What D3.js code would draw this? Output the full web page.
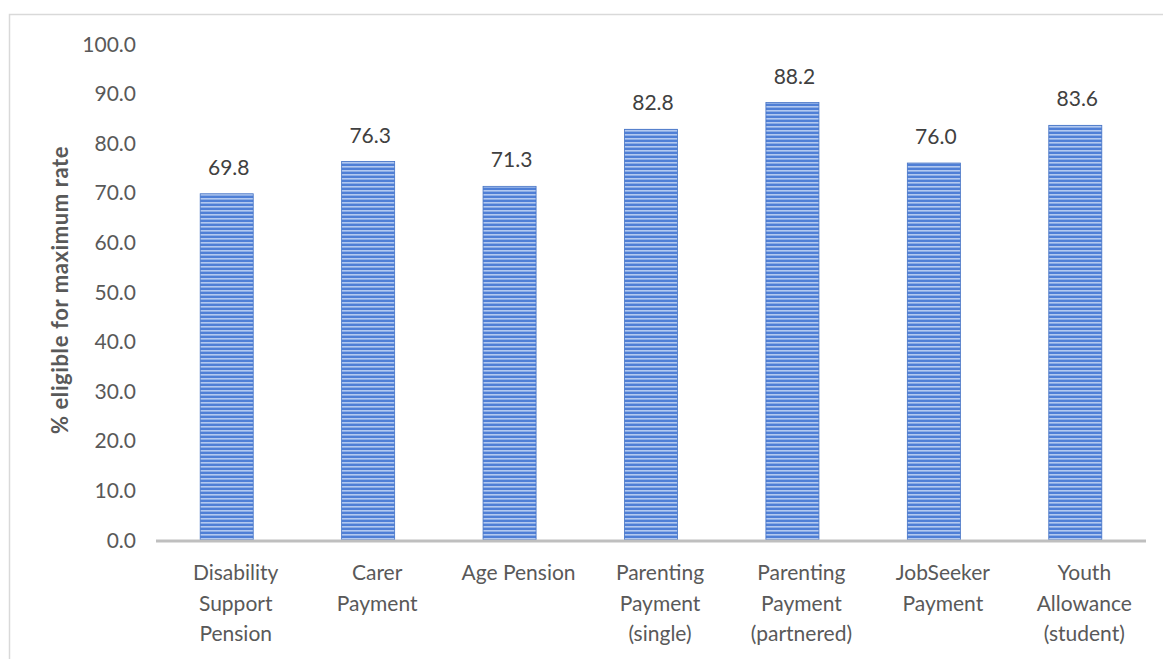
<!DOCTYPE html>
<html>
<head>
<meta charset="utf-8">
<script src="https://cdn.jsdelivr.net/npm/d3@7"></script>
<style>
  body { margin: 0; background: #fff; }
  svg { display: block; }
  text { font-family: Lato, "Open Sans", sans-serif; }
</style>
</head>
<body>
<div id="chart"></div>
<script>
// payment types, wrapped as in the original
var categories = [
    ["Disability", "Support", "Pension"],
    ["Carer", "Payment"],
    ["Age Pension"],
    ["Parenting", "Payment", "(single)"],
    ["Parenting", "Payment", "(partnered)"],
    ["JobSeeker", "Payment"],
    ["Youth", "Allowance", "(student)"]
];
var values = [69.8, 76.3, 71.3, 82.8, 88.2, 76.0, 83.6];
var yTicks = [0, 10, 20, 30, 40, 50, 60, 70, 80, 90, 100];
var yTitle = "% eligible for maximum rate";

var width = 1163, height = 659;
var margin = {top: 44, left: 156, right: 17, bottom: 119};

var svg = d3.select("#chart").append("svg")
    .attr("width", width)
    .attr("height", height);

//striped fill for the bars
var defs = svg.append("defs");
var pat = defs.append("pattern")
    .attr("id", "stripes")
    .attr("patternUnits", "userSpaceOnUse")
    .attr("width", 8)
    .attr("height", 4);
pat.append("rect").attr("width", 8).attr("height", 4).attr("fill", "#4f7fd6");
pat.append("rect").attr("y", 2).attr("width", 8).attr("height", 1.6).attr("fill", "#b3c9f0");

//outer frame
svg.append("path")
    .attr("d", "M9.5," + height + "V14.5H" + width)
    .attr("fill", "none")
    .attr("stroke", "#d9d9d9")
    .attr("stroke-width", 1.5);

var x = d3.scaleBand()
    .domain(d3.range(categories.length))
    .range([margin.left, width - margin.right])
    .paddingInner(0.625)
    .paddingOuter(0.3125);

var y = d3.scaleLinear()
    .domain([0, 100])
    .range([height - margin.bottom, margin.top]);

var yAxis = svg.append("g")
    .attr("transform", "translate(" + (margin.left - 20) + ",0)")
    .call(d3.axisLeft(y).tickValues(yTicks).tickSize(0).tickPadding(0).tickFormat(d3.format(".1f")));
yAxis.select(".domain").remove();
yAxis.selectAll("text")
    .attr("font-size", "21px")
    .attr("font-family", "Lato, 'Open Sans', sans-serif")
    .attr("dy", "0.34em")
    .attr("fill", "#595959");

svg.append("text")
    .attr("transform", "translate(68," + (y(50) - 2) + ") rotate(-90)")
    .attr("text-anchor", "middle")
    .attr("font-size", "22px")
    .attr("font-weight", "bold")
    .attr("letter-spacing", "0.6px")
    .attr("fill", "#595959")
    .text(yTitle);

var bars = svg.selectAll(".bar")
    .data(values)
    .enter().append("rect")
    .attr("class", "bar")
    .attr("x", function(d, i) { return x(i); })
    .attr("y", function(d) { return y(d); })
    .attr("width", x.bandwidth())
    .attr("height", function(d) { return y(0) - y(d); })
    .attr("fill", "url(#stripes)")
    .attr("stroke", "#4472c4")
    .attr("stroke-width", 0.8);

svg.selectAll(".val")
    .data(values)
    .enter().append("text")
    .attr("class", "val")
    .attr("x", function(d, i) { return x(i) + x.bandwidth() / 2 + 2; })
    .attr("y", function(d) { return y(d) - 19; })
    .attr("text-anchor", "middle")
    .attr("font-size", "21px")
    .attr("fill", "#404040")
    .text(function(d) { return d.toFixed(1); });

//baseline
svg.append("line")
    .attr("x1", margin.left)
    .attr("x2", width - margin.right)
    .attr("y1", y(0) + 1)
    .attr("y2", y(0) + 1)
    .attr("stroke", "#bfbfbf")
    .attr("stroke-width", 3);

var catLabels = svg.selectAll(".cat")
    .data(categories)
    .enter().append("text")
    .attr("class", "cat")
    .attr("text-anchor", "middle")
    .attr("font-size", "21px")
    .attr("fill", "#595959");

catLabels.selectAll("tspan")
    .data(function(d, i) { return d.map(function(t) { return {t: t, i: i}; }); })
    .enter().append("tspan")
    .attr("x", function(d) { return x(d.i) + x.bandwidth() / 2 + 9; })
    .attr("y", function(d, j) { return y(0) + 40 + j * 30.5; })
    .text(function(d) { return d.t; });
</script>
</body>
</html>
